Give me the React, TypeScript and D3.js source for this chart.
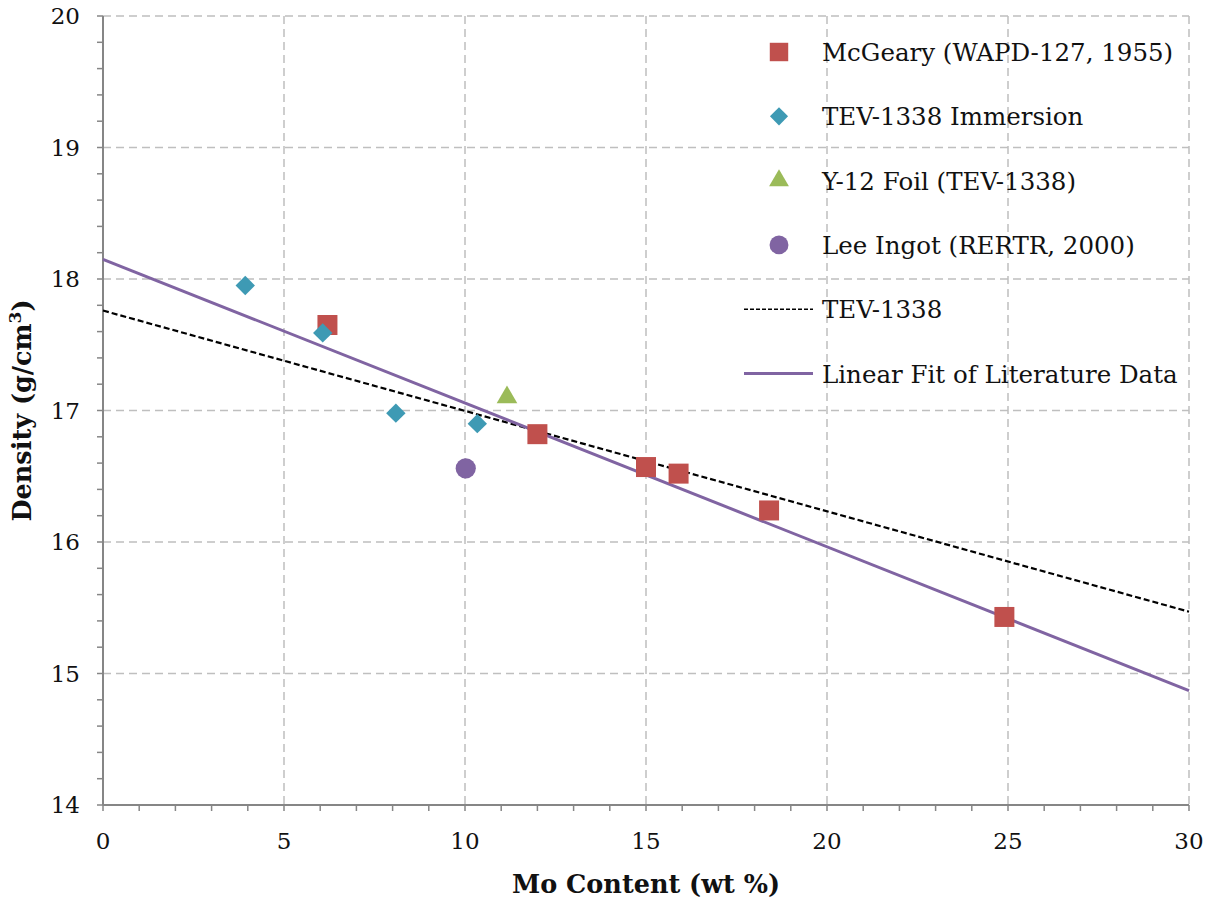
import React from "react";
import * as d3 from "d3";

const mcgearyX = [6.2, 12.0, 15.0, 15.9, 18.4, 24.9];
const mcgearyY = [17.65, 16.82, 16.57, 16.52, 16.24, 15.43];
const tevImmX = [3.93, 6.07, 8.09, 10.34];
const tevImmY = [17.95, 17.59, 16.98, 16.9];
const y12X = [11.16];
const y12Y = [17.1];
const leeX = [10.02];
const leeY = [16.56];
const tevLineX = [0, 30];
const tevLineY = [17.76, 15.47];
const fitLineX = [0, 30];
const fitLineY = [18.15, 14.87];
const xTicks = [0, 5, 10, 15, 20, 25, 30];
const yTicks = [14, 15, 16, 17, 18, 19, 20];
const legendLabels = [
  "McGeary (WAPD-127, 1955)",
  "TEV-1338 Immersion",
  "Y-12 Foil (TEV-1338)",
  "Lee Ingot (RERTR, 2000)",
  "TEV-1338",
  "Linear Fit of Literature Data",
];

const W = 1213;
const H = 900;
const M = { left: 103, right: 1189, top: 16, bottom: 805 };
const FONT = "'DejaVu Serif', serif";
const RED = "#C0504D";
const BLUE = "#3E9AB4";
const GREEN = "#9BBB59";
const PURPLE = "#8064A2";
const GRID = "#BFBFBF";
const AXIS = "#868686";

export default function App() {
  const x = d3.scaleLinear().domain([0, 30]).range([M.left, M.right]);
  const y = d3.scaleLinear().domain([14, 20]).range([M.bottom, M.top]);
  const line = d3
    .line<[number, number]>()
    .x((d) => x(d[0]))
    .y((d) => y(d[1]));
  const xMinor = d3.range(0, 30.001, 1);
  const yMinor = d3.range(14, 20.001, 0.2);

  const sq = d3.symbol().type(d3.symbolSquare).size(400)()!;
  const dia = d3.symbol().type(d3.symbolDiamond2).size(240)()!;
  const tri = d3.symbol().type(d3.symbolTriangle).size(185)()!;
  const circ = d3.symbol().type(d3.symbolCircle).size(320)()!;

  const legendRowY = (i: number) => 52 + i * 64.3;
  const legX = 779;

  return (
    <svg
      width={W}
      height={H}
      style={{ position: "absolute", left: 0, top: 0, background: "#fff" }}
    >
      <rect width={W} height={H} fill="#fff" />
      {/* gridlines */}
      {xTicks
        .filter((t) => t > 0)
        .map((t) => (
          <line
            key={"gx" + t}
            x1={x(t)}
            x2={x(t)}
            y1={M.top}
            y2={M.bottom}
            stroke={GRID}
            strokeWidth={1.5}
            strokeDasharray="8,5"
          />
        ))}
      {yTicks
        .filter((t) => t > 14)
        .map((t) => (
          <line
            key={"gy" + t}
            x1={M.left}
            x2={M.right}
            y1={y(t)}
            y2={y(t)}
            stroke={GRID}
            strokeWidth={1.5}
            strokeDasharray="8,5"
          />
        ))}
      {/* axes */}
      <line x1={M.left} x2={M.left} y1={M.top} y2={M.bottom} stroke={AXIS} strokeWidth={2} />
      <line x1={M.left} x2={M.right} y1={M.bottom} y2={M.bottom} stroke={AXIS} strokeWidth={2} />
      {xMinor.map((t) => (
        <line key={"xm" + t} x1={x(t)} x2={x(t)} y1={M.bottom} y2={M.bottom + 6} stroke={AXIS} strokeWidth={1.5} />
      ))}
      {yMinor.map((t) => (
        <line key={"ym" + t} x1={M.left - 6} x2={M.left} y1={y(t)} y2={y(t)} stroke={AXIS} strokeWidth={1.5} />
      ))}
      {xTicks.map((t) => (
        <text key={"xl" + t} x={x(t)} y={M.bottom + 44} textAnchor="middle" fontFamily={FONT} fontSize={23} fill="#111">
          {t}
        </text>
      ))}
      {yTicks.map((t) => (
        <text key={"yl" + t} x={M.left - 23} y={y(t) + 8} textAnchor="end" fontFamily={FONT} fontSize={23} fill="#111">
          {t}
        </text>
      ))}
      {/* axis titles */}
      <text x={(M.left + M.right) / 2} y={893} textAnchor="middle" fontFamily={FONT} fontWeight="bold" fontSize={25.5} fill="#111">
        Mo Content (wt %)
      </text>
      <text
        transform={`translate(31, ${(M.top + M.bottom) / 2}) rotate(-90)`}
        textAnchor="middle"
        fontFamily={FONT}
        fontWeight="bold"
        fontSize={25.5}
        fill="#111"
      >
        Density (g/cm<tspan dy={-10} fontSize={17}>3</tspan>
        <tspan dy={10}>)</tspan>
      </text>
      {/* lines */}
      <path
        d={line(tevLineX.map((v, i) => [v, tevLineY[i]] as [number, number]))!}
        fill="none"
        stroke="#000"
        strokeWidth={2.2}
        strokeDasharray="6,3"
      />
      <path
        d={line(fitLineX.map((v, i) => [v, fitLineY[i]] as [number, number]))!}
        fill="none"
        stroke={PURPLE}
        strokeWidth={3}
      />
      {/* points */}
      {mcgearyX.map((v, i) => (
        <path key={"m" + i} d={sq} transform={`translate(${x(v)},${y(mcgearyY[i])})`} fill={RED} />
      ))}
      {tevImmX.map((v, i) => (
        <path key={"t" + i} d={dia} transform={`translate(${x(v)},${y(tevImmY[i])})`} fill={BLUE} />
      ))}
      {y12X.map((v, i) => (
        <path key={"y" + i} d={tri} transform={`translate(${x(v)},${y(y12Y[i])})`} fill={GREEN} />
      ))}
      {leeX.map((v, i) => (
        <path key={"l" + i} d={circ} transform={`translate(${x(v)},${y(leeY[i])})`} fill={PURPLE} />
      ))}
      {/* legend */}
      <path d={d3.symbol().type(d3.symbolSquare).size(340)()!} transform={`translate(${legX},${legendRowY(0)})`} fill={RED} />
      <path d={d3.symbol().type(d3.symbolDiamond2).size(210)()!} transform={`translate(${legX},${legendRowY(1)})`} fill={BLUE} />
      <path d={d3.symbol().type(d3.symbolTriangle).size(170)()!} transform={`translate(${legX},${legendRowY(2)})`} fill={GREEN} />
      <path d={d3.symbol().type(d3.symbolCircle).size(280)()!} transform={`translate(${legX},${legendRowY(3)})`} fill={PURPLE} />
      <line x1={744} x2={813} y1={legendRowY(4)} y2={legendRowY(4)} stroke="#000" strokeWidth={1.5} strokeDasharray="4,2" />
      <line x1={744} x2={813} y1={legendRowY(5)} y2={legendRowY(5)} stroke={PURPLE} strokeWidth={3} />
      {legendLabels.map((s, i) => (
        <text key={"lg" + i} x={822} y={legendRowY(i) + 9} fontFamily={FONT} fontSize={24.5} fill="#111">
          {s}
        </text>
      ))}
    </svg>
  );
}
